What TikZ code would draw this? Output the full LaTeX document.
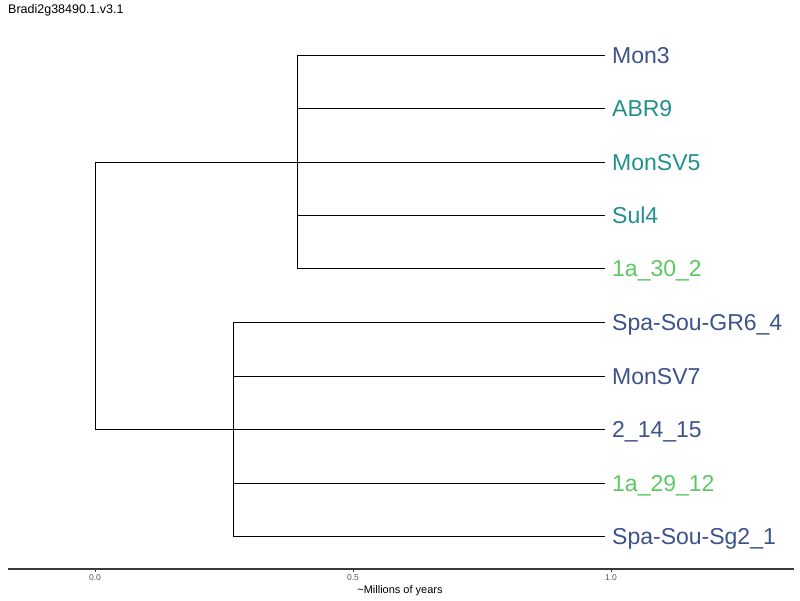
\documentclass[tikz,border=0pt]{standalone}
\usepackage{fontspec}
\setmainfont{Liberation Sans}
\definecolor{vdblue}{HTML}{3B528B}
\definecolor{vteal}{HTML}{21908C}
\definecolor{vgreen}{HTML}{5DC863}
\definecolor{axisgray}{HTML}{3A3A3A}
\definecolor{ticktext}{HTML}{555555}
\begin{document}
\begin{tikzpicture}[x=1pt,y=-1pt,
  branch/.style={draw=black,line width=0.9pt,line cap=rect},
  leaf/.style={anchor=base west,inner sep=0pt,font=\fontsize{23}{23}\selectfont},
  ticklabel/.style={anchor=base,inner sep=0pt,text=ticktext,font=\fontsize{8.5}{8.5}\selectfont},
  axisline/.style={draw=axisgray,line width=1.3pt}]
\useasboundingbox (0,0) rectangle (800,600);

% title
\node[anchor=base west,inner sep=0pt,font=\fontsize{12.5}{12.5}\selectfont] (title) at (8,13.5) {Bradi2g38490.1.v3.1};

% leaf tips
\foreach \n/\y in {1/55,2/108,3/162,4/215,5/268,6/322,7/376,8/429,9/483,10/536}
  \coordinate (t\n) at (605,\y);

% leaf labels
\node[leaf,text=vdblue]  (l1)  at ([xshift=7pt,yshift=-8.2pt]t1)  {Mon3};
\node[leaf,text=vteal]   (l2)  at ([xshift=7pt,yshift=-8.2pt]t2)  {ABR9};
\node[leaf,text=vteal]   (l3)  at ([xshift=7pt,yshift=-8.2pt]t3)  {MonSV5};
\node[leaf,text=vteal]   (l4)  at ([xshift=7pt,yshift=-8.2pt]t4)  {Sul4};
\node[leaf,text=vgreen]  (l5)  at ([xshift=7pt,yshift=-8.2pt]t5)  {1a\_30\_2};
\node[leaf,text=vdblue]  (l6)  at ([xshift=7pt,yshift=-8.2pt]t6)  {Spa-Sou-GR6\_4};
\node[leaf,text=vdblue]  (l7)  at ([xshift=7pt,yshift=-8.2pt]t7)  {MonSV7};
\node[leaf,text=vdblue]  (l8)  at ([xshift=7pt,yshift=-8.2pt]t8)  {2\_14\_15};
\node[leaf,text=vgreen]  (l9)  at ([xshift=7pt,yshift=-8.2pt]t9)  {1a\_29\_12};
\node[leaf,text=vdblue]  (l10) at ([xshift=7pt,yshift=-8.2pt]t10) {Spa-Sou-Sg2\_1};

% internal nodes
\coordinate (cA) at (297,162);
\coordinate (cB) at (233,429);
\coordinate (rA) at (95,162);
\coordinate (rB) at (95,429);

% root
\draw[branch] (cA) -- (rA) -- (rB) -- (cB);

% upper clade
\draw[branch] (cA |- t1) -- (cA |- t5);
\foreach \n in {1,...,5}
  \draw[branch] (cA |- t\n) -- (t\n);

% lower clade
\draw[branch] (cB |- t6) -- (cB |- t10);
\foreach \n in {6,...,10}
  \draw[branch] (cB |- t\n) -- (t\n);

% time axis
\coordinate (ax0) at (8,569);
\coordinate (ax1) at (794,569);
\draw[axisline] (ax0) -- (ax1);
\foreach \x/\lab in {95/0.0,353/0.5,611/1.0}{
  \draw[draw=axisgray,line width=0.8pt] (\x,569) -- (\x,572);
  \node[ticklabel] at (\x,580) {\lab};
}
\node[anchor=base,inner sep=0pt,font=\fontsize{11}{11}\selectfont] (axlabel) at (400,593) {\textasciitilde Millions of years};
\end{tikzpicture}
\end{document}
